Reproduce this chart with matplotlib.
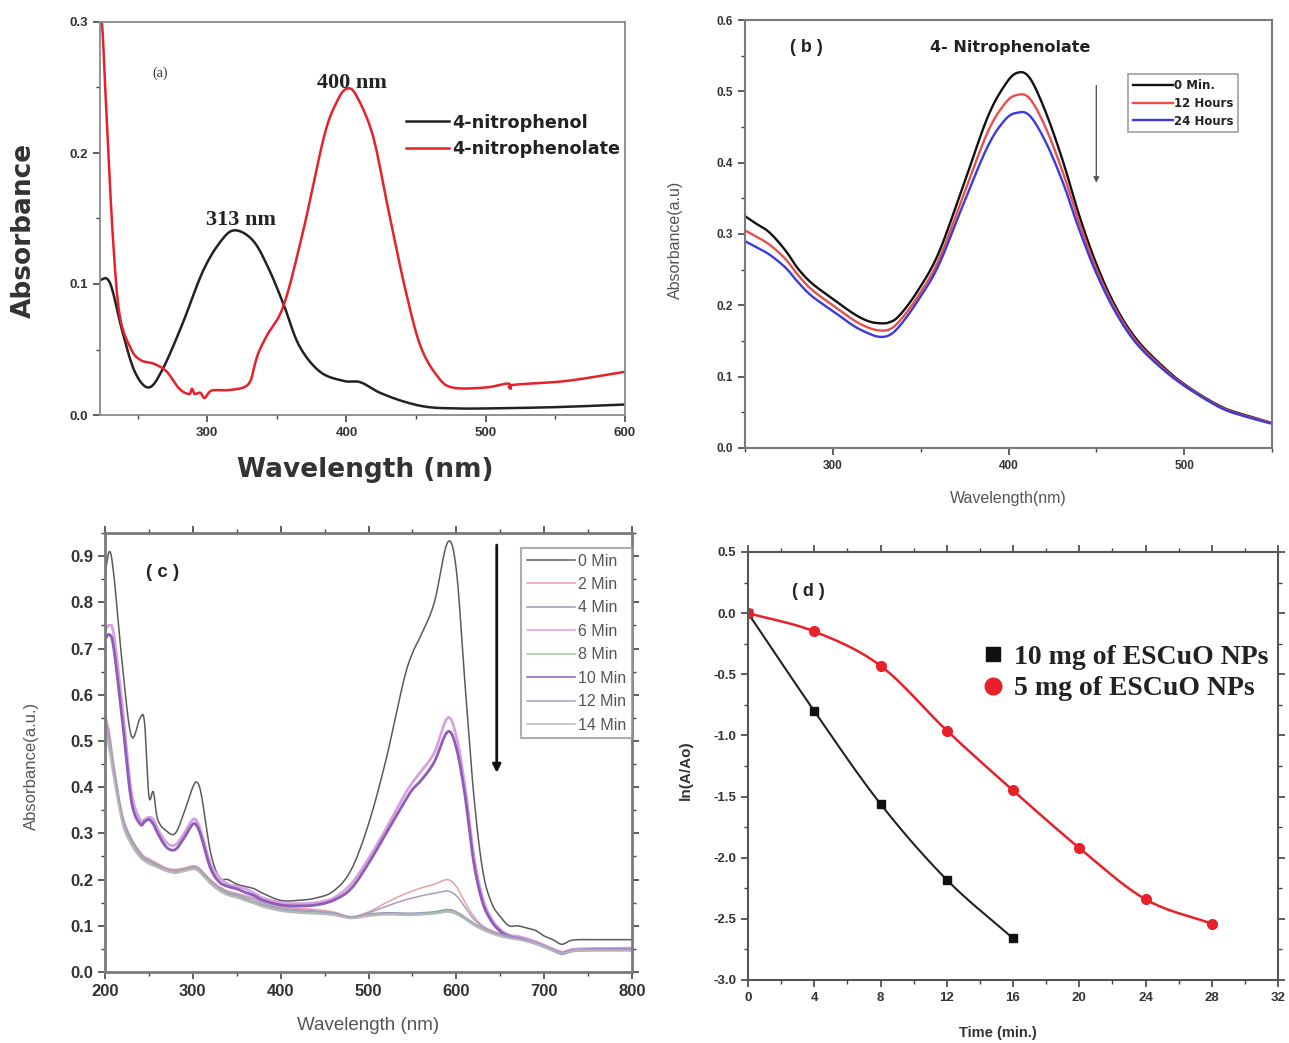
import numpy as np
import matplotlib
matplotlib.use("Agg")
import matplotlib.pyplot as plt
from matplotlib.lines import Line2D
from matplotlib.ticker import MultipleLocator

plt.rcParams['font.family'] = ['Liberation Sans', 'DejaVu Sans']
plt.rcParams['axes.unicode_minus'] = False

# ---------------- Panel (a) data ----------------
xa_phenol = [223, 228, 232, 239, 248, 258, 268, 282, 297, 310, 320, 333, 344, 355, 366,
             381, 398, 410, 424, 442, 459, 480, 500, 550, 600]
ya_phenol = [0.103, 0.104, 0.095, 0.064, 0.033, 0.021, 0.035, 0.069, 0.110, 0.133, 0.141,
             0.133, 0.112, 0.084, 0.053, 0.033, 0.026, 0.025, 0.017, 0.010, 0.006, 0.005,
             0.005, 0.006, 0.008]
xa_phenolate = [223, 225, 227, 232, 237, 245, 252, 262, 271, 280, 287, 289, 291, 295, 298,
                302, 306, 315, 326, 331, 334, 337, 343, 355, 369, 384, 393, 400, 407, 419,
                430, 442, 453, 465, 476, 500, 516, 518, 520, 558, 600]
ya_phenolate = [0.32, 0.29, 0.244, 0.14, 0.077, 0.051, 0.042, 0.039, 0.033, 0.020, 0.016,
                0.020, 0.016, 0.017, 0.013, 0.018, 0.019, 0.019, 0.021, 0.026, 0.038, 0.048,
                0.061, 0.084, 0.141, 0.213, 0.239, 0.249, 0.244, 0.213, 0.157, 0.097, 0.053,
                0.030, 0.021, 0.021, 0.024, 0.020, 0.023, 0.026, 0.033]
a_labels = ['4-nitrophenol', '4-nitrophenolate']

# ---------------- Panel (b) data ----------------
xb = [250, 256, 264, 273, 280, 288, 300, 312, 320, 326, 332, 338, 348, 360, 374, 388, 398,
      405, 412, 421, 431, 440, 450, 461, 473, 488, 502, 521, 535, 550]
b_0min = [0.325, 0.315, 0.302, 0.277, 0.252, 0.231, 0.209, 0.188, 0.178, 0.175, 0.176, 0.186,
          0.219, 0.272, 0.366, 0.463, 0.509, 0.526, 0.519, 0.472, 0.402, 0.328, 0.258, 0.198,
          0.152, 0.114, 0.086, 0.058, 0.046, 0.035]
b_12h = [0.305, 0.297, 0.285, 0.265, 0.243, 0.222, 0.200, 0.179, 0.169, 0.165, 0.166, 0.178,
         0.211, 0.262, 0.352, 0.442, 0.483, 0.495, 0.490, 0.450, 0.386, 0.318, 0.251, 0.194,
         0.149, 0.112, 0.085, 0.057, 0.045, 0.035]
b_24h = [0.290, 0.282, 0.271, 0.253, 0.233, 0.213, 0.192, 0.171, 0.161, 0.156, 0.158, 0.171,
         0.205, 0.255, 0.340, 0.422, 0.460, 0.470, 0.466, 0.430, 0.372, 0.308, 0.245, 0.190,
         0.146, 0.110, 0.084, 0.056, 0.044, 0.034]
b_labels = ['0 Min.', '12 Hours', '24 Hours']

# ---------------- Panel (c) data ----------------
xc = [200, 205, 210, 220, 230, 240, 245, 250, 255, 260, 270, 280, 290, 300, 305, 310, 320,
      330, 340, 350, 360, 370, 380, 400, 420, 440, 460, 480, 500, 520, 540, 550, 560, 575,
      590, 600, 610, 620, 630, 640, 650, 660, 670, 680, 690, 700, 710, 720, 730, 740, 760,
      780, 800]
c_0 = [0.86, 0.91, 0.86, 0.66, 0.51, 0.55, 0.54, 0.38, 0.39, 0.33, 0.305, 0.30, 0.345, 0.40,
       0.41, 0.38, 0.26, 0.205, 0.20, 0.19, 0.185, 0.18, 0.17, 0.155, 0.155, 0.16, 0.175, 0.22,
       0.32, 0.46, 0.63, 0.69, 0.73, 0.80, 0.93, 0.87, 0.62, 0.38, 0.22, 0.15, 0.12, 0.10,
       0.10, 0.095, 0.09, 0.078, 0.07, 0.06, 0.068, 0.07, 0.07, 0.07, 0.07]
c_2 = [0.56, 0.52, 0.45, 0.34, 0.29, 0.26, 0.25, 0.245, 0.24, 0.235, 0.225, 0.222, 0.225,
       0.23, 0.228, 0.22, 0.20, 0.185, 0.175, 0.17, 0.165, 0.16, 0.152, 0.142, 0.138, 0.135,
       0.13, 0.12, 0.13, 0.15, 0.168, 0.175, 0.182, 0.19, 0.20, 0.185, 0.15, 0.12, 0.10, 0.09,
       0.083, 0.078, 0.074, 0.07, 0.065, 0.058, 0.05, 0.044, 0.048, 0.05, 0.05, 0.05, 0.05]
c_4 = [0.55, 0.50, 0.44, 0.33, 0.285, 0.255, 0.245, 0.24, 0.235, 0.23, 0.222, 0.218, 0.222,
       0.226, 0.224, 0.215, 0.195, 0.18, 0.17, 0.165, 0.158, 0.152, 0.145, 0.136, 0.132,
       0.13, 0.127, 0.118, 0.125, 0.128, 0.127, 0.127, 0.128, 0.13, 0.135, 0.13, 0.118, 0.105,
       0.095, 0.086, 0.08, 0.075, 0.072, 0.068, 0.063, 0.056, 0.048, 0.042, 0.046, 0.048,
       0.048, 0.048, 0.048]
c_6 = [0.74, 0.75, 0.73, 0.57, 0.39, 0.33, 0.33, 0.335, 0.33, 0.31, 0.28, 0.275, 0.30, 0.33,
       0.325, 0.30, 0.235, 0.205, 0.19, 0.185, 0.18, 0.17, 0.16, 0.15, 0.148, 0.15, 0.16, 0.19,
       0.245, 0.31, 0.38, 0.41, 0.435, 0.475, 0.55, 0.51, 0.40, 0.25, 0.16, 0.115, 0.092,
       0.08, 0.077, 0.072, 0.066, 0.058, 0.05, 0.043, 0.048, 0.05, 0.051, 0.051, 0.052]
c_8 = [0.54, 0.49, 0.43, 0.325, 0.28, 0.25, 0.242, 0.236, 0.232, 0.228, 0.22, 0.216, 0.22,
       0.224, 0.222, 0.213, 0.193, 0.178, 0.168, 0.163, 0.156, 0.15, 0.143, 0.134, 0.13,
       0.128, 0.125, 0.117, 0.123, 0.126, 0.125, 0.125, 0.126, 0.128, 0.132, 0.127, 0.116,
       0.103, 0.093, 0.085, 0.079, 0.074, 0.071, 0.067, 0.062, 0.055, 0.047, 0.041, 0.045,
       0.047, 0.047, 0.047, 0.047]
c_10 = [0.72, 0.73, 0.70, 0.54, 0.37, 0.32, 0.325, 0.33, 0.32, 0.30, 0.27, 0.265, 0.29, 0.32,
        0.315, 0.29, 0.225, 0.195, 0.185, 0.18, 0.172, 0.165, 0.155, 0.145, 0.143, 0.145,
        0.155, 0.18, 0.235, 0.30, 0.365, 0.395, 0.415, 0.455, 0.52, 0.485, 0.38, 0.235, 0.15,
        0.11, 0.088, 0.077, 0.073, 0.068, 0.062, 0.055, 0.047, 0.04, 0.045, 0.047, 0.048,
        0.048, 0.048]
c_12 = [0.55, 0.51, 0.44, 0.335, 0.287, 0.257, 0.247, 0.242, 0.237, 0.232, 0.223, 0.22,
        0.223, 0.228, 0.226, 0.218, 0.198, 0.183, 0.173, 0.168, 0.162, 0.157, 0.149, 0.139,
        0.135, 0.132, 0.128, 0.119, 0.128, 0.142, 0.155, 0.16, 0.165, 0.17, 0.175, 0.165,
        0.14, 0.114, 0.098, 0.088, 0.082, 0.077, 0.073, 0.069, 0.064, 0.057, 0.049, 0.043,
        0.047, 0.049, 0.049, 0.049, 0.049]
c_14 = [0.53, 0.48, 0.42, 0.32, 0.275, 0.248, 0.24, 0.234, 0.23, 0.226, 0.218, 0.214, 0.218,
        0.222, 0.22, 0.211, 0.191, 0.176, 0.166, 0.161, 0.154, 0.148, 0.141, 0.132, 0.128,
        0.126, 0.123, 0.116, 0.121, 0.124, 0.123, 0.123, 0.124, 0.126, 0.13, 0.125, 0.114,
        0.101, 0.091, 0.083, 0.077, 0.073, 0.07, 0.066, 0.061, 0.054, 0.046, 0.04, 0.044,
        0.046, 0.046, 0.046, 0.046]
c_labels = ['0 Min', '2 Min', '4 Min', '6 Min', '8 Min', '10 Min', '12 Min', '14 Min']

# ---------------- Panel (d) data ----------------
t_10mg = [0, 4, 8, 12, 16]
ln_10mg = [0.0, -0.80, -1.56, -2.18, -2.66]
t_5mg = [0, 4, 8, 12, 16, 20, 24, 28]
ln_5mg = [0.0, -0.15, -0.43, -0.96, -1.45, -1.92, -2.34, -2.54]
d_labels = ['10 mg of ESCuO NPs', '5 mg of ESCuO NPs']


def smooth(x, y, n=20):
    """Catmull-Rom rendering of a line through the given points."""
    x = np.asarray(x, float)
    y = np.asarray(y, float)
    P = np.column_stack([x, y])
    P = np.vstack([2 * P[0] - P[1], P, 2 * P[-1] - P[-2]])
    out = []
    for i in range(1, len(P) - 2):
        p0, p1, p2, p3 = P[i - 1], P[i], P[i + 1], P[i + 2]
        t = np.linspace(0, 1, n, endpoint=False)[:, None]
        pts = 0.5 * ((2 * p1) + (-p0 + p2) * t + (2 * p0 - 5 * p1 + 4 * p2 - p3) * t ** 2
                     + (-p0 + 3 * p1 - 3 * p2 + p3) * t ** 3)
        out.append(pts)
    out.append(P[-2][None, :])
    out = np.vstack(out)
    return out[:, 0], out[:, 1]


def style_ax(ax, spine_color, spine_lw, lab_size, all_sides=False):
    for s in ax.spines.values():
        s.set_color(spine_color)
        s.set_linewidth(spine_lw)
    ax.tick_params(which='both', direction='out', colors='#444444',
                   top=all_sides, right=all_sides, labelsize=lab_size)
    ax.tick_params(which='major', length=5, width=1.2)
    ax.tick_params(which='minor', length=3, width=1.0)
    for lbl in ax.get_xticklabels() + ax.get_yticklabels():
        lbl.set_fontweight('bold')
        lbl.set_color('#333333')


W, H = 1289, 1043
fig = plt.figure(figsize=(W / 100, H / 100), dpi=100)


def axes_px(l, t, r, b):
    return fig.add_axes([l / W, 1 - b / H, (r - l) / W, (b - t) / H])


# ================= (a) =================
ax = axes_px(100, 22, 625, 415)
sx, sy = smooth(xa_phenol, ya_phenol, 8)
ax.plot(sx, sy, color='#222222', lw=1.8, label=a_labels[0])
sx, sy = smooth(xa_phenolate, ya_phenolate, 8)
ax.plot(sx, sy, color='#e8202a', lw=1.8, label=a_labels[1])
ax.set_xlim(223, 600)
ax.set_ylim(0, 0.3)
ax.set_xticks([300, 400, 500, 600])
ax.xaxis.set_minor_locator(MultipleLocator(50))
ax.set_yticks([0.0, 0.1, 0.2, 0.3])
ax.yaxis.set_minor_locator(MultipleLocator(0.05))
style_ax(ax, '#8a8a8a', 1.3, 9.5)
ax.text(0.114, 0.87, '(a)', transform=ax.transAxes, fontsize=10, family='Liberation Serif',
        ha='center', va='center', color='#333333')
ax.text(324, 0.149, '313 nm', fontsize=16, family='Liberation Serif', fontweight='bold',
        ha='center', va='center', color='#222222')
ax.text(404, 0.2534, '400 nm', fontsize=16, family='Liberation Serif', fontweight='bold',
        ha='center', va='center', color='#222222')
leg = ax.legend(loc='upper left', bbox_to_anchor=(0.57, 0.785), frameon=False,
                handlelength=2.4, handletextpad=0.2, labelspacing=0.47, borderaxespad=0,
                prop={'family': 'DejaVu Sans', 'weight': 'bold', 'size': 12.7})
for t in leg.get_texts():
    t.set_color('#222222')
ax.text(-0.145, 0.47, 'Absorbance', transform=ax.transAxes, rotation=90, fontsize=19,
        fontweight='bold', family='DejaVu Sans', ha='center', va='center', color='#333333')
ax.text(0.505, -0.14, 'Wavelength (nm)', transform=ax.transAxes, fontsize=19,
        fontweight='bold', family='DejaVu Sans', ha='center', va='center', color='#333333')

# ================= (b) =================
ax = axes_px(745, 20, 1272, 448)
for ys, col, lab in zip([b_0min, b_12h, b_24h], ['#111111', '#e8504a', '#3a3ae0'], b_labels):
    sx, sy = smooth(xb, ys, 8)
    ax.plot(sx, sy, color=col, lw=1.7, label=lab)
ax.set_xlim(250, 550)
ax.set_ylim(0, 0.6)
ax.set_xticks([300, 400, 500])
ax.xaxis.set_minor_locator(MultipleLocator(50))
ax.set_yticks(np.arange(0, 0.61, 0.1))
ax.yaxis.set_minor_locator(MultipleLocator(0.05))
style_ax(ax, '#7a7a7a', 1.5, 8.5)
leg = ax.legend(loc='upper left', bbox_to_anchor=(0.727, 0.873),
                handlelength=3.4, handletextpad=0.1, labelspacing=0.4, borderaxespad=0,
                fancybox=False, edgecolor='#888888', borderpad=0.4,
                prop={'family': 'DejaVu Sans', 'weight': 'bold', 'size': 8.5})
leg.get_frame().set_linewidth(1.2)
for t in leg.get_texts():
    t.set_color('#222222')
ax.annotate('', xy=(450, 0.368), xytext=(450, 0.512),
            arrowprops=dict(arrowstyle='-|>', color='#555555', lw=1.0, mutation_scale=8))
ax.text(0.116, 0.935, '( b )', transform=ax.transAxes, fontsize=13, fontweight='bold',
        ha='center', va='center', color='#222222')
ax.text(0.503, 0.935, '4- Nitrophenolate', transform=ax.transAxes, fontsize=11.5,
        fontweight='bold', family='DejaVu Sans', ha='center', va='center', color='#222222')
ax.text(-0.131, 0.486, 'Absorbance(a.u)', transform=ax.transAxes, rotation=90, fontsize=11.5,
        ha='center', va='center', color='#555555')
ax.text(0.5, -0.117, 'Wavelength(nm)', transform=ax.transAxes, fontsize=11.5,
        ha='center', va='center', color='#555555')

# ================= (c) =================
ax = axes_px(105, 533, 632, 972)
c_series = [c_0, c_2, c_4, c_6, c_8, c_10, c_12, c_14]
c_colors = ['#5a5a5a', '#e8a0a8', '#9a9ab4', '#d8a0e0', '#9ec49e', '#8c5cb8', '#a89cc4',
            '#b8b8b8']
c_lw = [1.1, 1.1, 1.3, 2.0, 1.1, 2.0, 1.1, 1.3]
for ys, col, lw, lab in zip(c_series, c_colors, c_lw, c_labels):
    sx, sy = smooth(xc, ys, 6)
    ax.plot(sx, sy, color=col, lw=lw, label=lab)
ax.set_xlim(200, 800)
ax.set_ylim(0, 0.95)
ax.set_xticks(np.arange(200, 801, 100))
ax.xaxis.set_minor_locator(MultipleLocator(50))
ax.set_yticks(np.round(np.arange(0, 0.91, 0.1), 1))
ax.yaxis.set_minor_locator(MultipleLocator(0.05))
style_ax(ax, '#7a7a7a', 2.0, 12, all_sides=True)
leg_handles = [Line2D([], [], color=c, lw=1.1) for c in c_colors]
leg = ax.legend(leg_handles, c_labels, loc='upper right', bbox_to_anchor=(1.0, 0.966),
                fontsize=11.5, handlelength=3.0, handletextpad=0.2, labelspacing=0.53,
                borderaxespad=0, fancybox=False, edgecolor='#999999', borderpad=0.35)
leg.get_frame().set_linewidth(1.5)
for t in leg.get_texts():
    t.set_color('#555555')
ax.annotate('', xy=(646, 0.425), xytext=(646, 0.93),
            arrowprops=dict(arrowstyle='-|>', color='#111111', lw=2.0, mutation_scale=12))
ax.text(0.11, 0.909, '( c )', transform=ax.transAxes, fontsize=13.5, fontweight='bold',
        ha='center', va='center', color='#222222')
ax.text(-0.139, 0.47, 'Absorbance(a.u.)', transform=ax.transAxes, rotation=90, fontsize=12,
        ha='center', va='center', color='#555555')
ax.text(0.5, -0.121, 'Wavelength (nm)', transform=ax.transAxes, fontsize=13.5,
        ha='center', va='center', color='#555555')

# ================= (d) =================
ax = axes_px(748, 552, 1278, 980)
sx, sy = smooth(t_10mg, ln_10mg)
ax.plot(sx, sy, color='#222222', lw=1.5)
ax.plot(t_10mg, ln_10mg, ls='none', marker='s', ms=6, color='#111111')
sx, sy = smooth(t_5mg, ln_5mg)
ax.plot(sx, sy, color='#e8202a', lw=1.8)
ax.plot(t_5mg, ln_5mg, ls='none', marker='o', ms=7, color='#e8202a')
ax.set_xlim(0, 32)
ax.set_ylim(-3.0, 0.5)
ax.set_xticks(np.arange(0, 33, 4))
ax.xaxis.set_minor_locator(MultipleLocator(2))
ax.set_yticks(np.round(np.arange(-3.0, 0.51, 0.5), 1))
ax.yaxis.set_minor_locator(MultipleLocator(0.25))
style_ax(ax, '#555555', 1.5, 9.5, all_sides=True)
handles = [Line2D([], [], ls='none', marker='s', ms=10, color='#111111'),
           Line2D([], [], ls='none', marker='o', ms=12, color='#e8202a')]
leg = ax.legend(handles, d_labels, loc='upper left', bbox_to_anchor=(0.42, 0.81),
                frameon=False, handlelength=0.8, handletextpad=0.35,
                labelspacing=0.22, borderaxespad=0,
                prop={'family': 'Liberation Serif', 'weight': 'bold', 'size': 20})
for t in leg.get_texts():
    t.set_color('#222222')
ax.text(0.113, 0.907, '( d )', transform=ax.transAxes, fontsize=13, fontweight='bold',
        ha='center', va='center', color='#222222')
ax.text(-0.117, 0.49, 'ln(A/Ao)', transform=ax.transAxes, rotation=90, fontsize=11,
        fontweight='bold', ha='center', va='center', color='#333333')
ax.text(0.472, -0.124, 'Time (min.)', transform=ax.transAxes, fontsize=10.5,
        fontweight='bold', ha='center', va='center', color='#333333')

fig.savefig('out.png', dpi=100)
